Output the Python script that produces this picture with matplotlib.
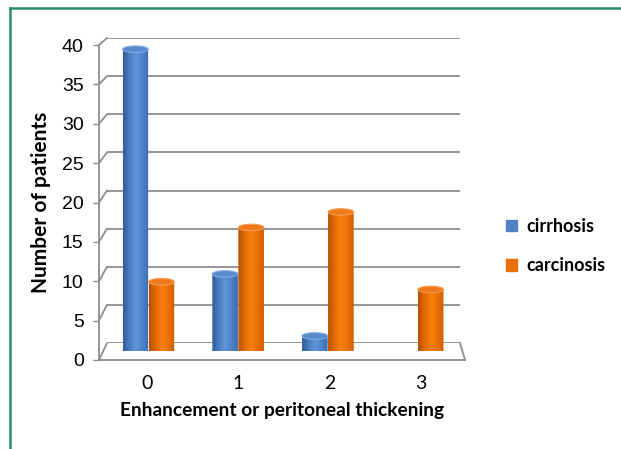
import numpy as np
import matplotlib
matplotlib.use("Agg")
import matplotlib.pyplot as plt
from matplotlib.colors import LinearSegmentedColormap
from matplotlib.patches import PathPatch, Ellipse, Rectangle, ConnectionPatch
from matplotlib.path import Path

categories = [0, 1, 2, 3]
cirrhosis = [39, 10, 2, 0]
carcinosis = [9, 16, 18, 8]
series_names = ["cirrhosis", "carcinosis"]
y_ticks = [0, 5, 10, 15, 20, 25, 30, 35, 40]

W, H = 621, 449
fig = plt.figure(figsize=(W / 100, H / 100), dpi=100)
fig.patch.set_facecolor("white")


def box(x0, x1, y_bottom, y_top):
    # pixel box -> figure fraction
    return [x0 / W, (H - y_bottom) / H, (x1 - x0) / W, (y_bottom - y_top) / H]


grid_col = "#8e8e8e"

# back wall of the pseudo-3D chart
ax_b = fig.add_axes(box(107, 460, 343, 38))
ax_b.set_xlim(-0.5, 3.5)
ax_b.set_ylim(0, 40)
ax_b.set_yticks(y_ticks)
ax_b.yaxis.grid(True, color=grid_col, lw=1.3)
ax_b.tick_params(left=False, bottom=False, labelleft=False, labelbottom=False)
for s in ax_b.spines.values():
    s.set_visible(False)
ax_b.set_facecolor("none")

# front plane: axis line, ticks and labels
ax_f = fig.add_axes(box(99, 465, 360, 45))
ax_f.set_xlim(-0.52, 3.48)
ax_f.set_ylim(0, 40)
ax_f.set_facecolor("none")
ax_f.set_yticks(y_ticks)
ax_f.set_xticks(categories)
ax_f.set_xticklabels([str(c) for c in categories], fontsize=14, family="Lato")
ax_f.tick_params(axis="y", length=4, width=1, color=grid_col, pad=7, labelsize=14)
for lab in ax_f.get_yticklabels():
    lab.set_family("Liberation Sans")
ax_f.tick_params(axis="x", length=0, pad=11)
for side in ["top", "right"]:
    ax_f.spines[side].set_visible(False)
for side in ["left", "bottom"]:
    ax_f.spines[side].set_color(grid_col)
    ax_f.spines[side].set_linewidth(1.3)
ax_f.set_xlabel("Enhancement or peritoneal thickening", fontsize=13.8,
                family="Lato", fontweight="bold", labelpad=7)
ax_f.set_ylabel("Number of patients", fontsize=15, family="Lato",
                fontweight="bold", labelpad=8)

# side wall and floor edges joining front and back planes
for v in y_ticks:
    con = ConnectionPatch(xyA=(0, v), coordsA=ax_f.get_yaxis_transform(),
                          xyB=(0, v), coordsB=ax_b.get_yaxis_transform(),
                          color=grid_col, lw=1.3)
    fig.add_artist(con)
fig.add_artist(ConnectionPatch(xyA=(1, 0), coordsA=ax_f.transAxes,
                               xyB=(1, 0), coordsB=ax_b.transAxes,
                               color=grid_col, lw=1.3))

# bars sit halfway between front and back
ax = fig.add_axes(box(103.5, 462.5, 351.5, 41.5))
ax.set_xlim(-0.5, 3.5)
ax.set_ylim(0, 40)
ax.axis("off")

blue_cmap = LinearSegmentedColormap.from_list(
    "b", ["#2f5d98", "#4a7cc0", "#6195d8", "#4f84c8", "#3a6cae"])
orange_cmap = LinearSegmentedColormap.from_list(
    "o", ["#b85000", "#e26a04", "#f7820f", "#ec7005", "#cf5e00"])
tops = ["#5a8bce", "#ee7a1c"]
top_edges = ["#7ea8e0", "#f49a4f"]

bar_w = 0.285
cap_h = 0.85
offsets = [-0.145, 0.145]
grad = np.linspace(0, 1, 64).reshape(1, -1)

for si, (vals, cmap) in enumerate([(cirrhosis, blue_cmap), (carcinosis, orange_cmap)]):
    for c, v in zip(categories, vals):
        if v <= 0:
            continue
        xc = c + offsets[si]
        x0, x1 = xc - bar_w / 2, xc + bar_w / 2
        t = np.linspace(np.pi, 2 * np.pi, 30)
        arc = np.column_stack([xc + bar_w / 2 * np.cos(t), cap_h / 2 * np.sin(t)])
        verts = np.vstack([[x0, v], arc, [x1, v], [x0, v]])
        codes = [Path.MOVETO] + [Path.LINETO] * (len(verts) - 2) + [Path.CLOSEPOLY]
        body = PathPatch(Path(verts, codes), facecolor="none", edgecolor="none")
        ax.add_patch(body)
        im = ax.imshow(grad, cmap=cmap, aspect="auto", zorder=2,
                       extent=[x0, x1, -cap_h / 2, v])
        im.set_clip_path(body)
        ax.add_patch(Ellipse((xc, v), bar_w, cap_h, facecolor=tops[si],
                             edgecolor=top_edges[si], lw=0.8, zorder=3))

ax.set_xlim(-0.5, 3.5)
ax.set_ylim(0, 40)

# legend
fig.legend(handles=[Rectangle((0, 0), 1, 1, color="#4f81c4"),
                    Rectangle((0, 0), 1, 1, color="#e8700a")],
           labels=series_names, loc="center left", bbox_to_anchor=(490 / W, 1 - 246 / H),
           frameon=False, handlelength=0.6, handleheight=0.6, handletextpad=0.5,
           labelspacing=1.25, prop={"family": "Lato", "weight": "bold", "size": 13})

# outer frame
fig.add_artist(plt.Line2D([10 / W, 10 / W], [0, 1 - 8 / H], color="#2b8a6e", lw=1.8))
fig.add_artist(plt.Line2D([10 / W, 1], [1 - 8 / H, 1 - 8 / H], color="#2b8a6e", lw=1.8))

fig.savefig("out.png", dpi=100)
